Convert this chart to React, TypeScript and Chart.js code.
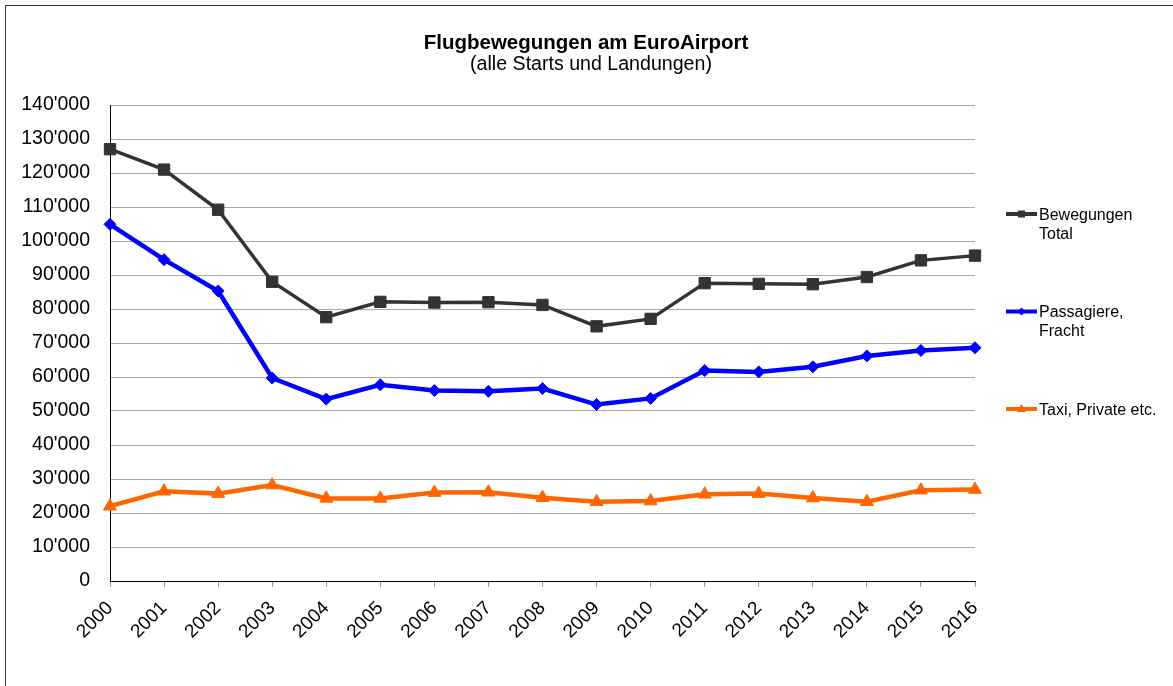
import React, { useEffect, useRef } from "react";
import { Chart, registerables } from "chart.js";

Chart.register(...registerables);

const years = ["2000", "2001", "2002", "2003", "2004", "2005", "2006", "2007", "2008", "2009", "2010", "2011", "2012", "2013", "2014", "2015", "2016"];
const total = [127000, 121000, 109200, 88000, 77600, 82100, 81900, 82000, 81200, 74900, 77100, 87600, 87400, 87300, 89400, 94300, 95700];
const passagiere = [104900, 94500, 85300, 59700, 53500, 57700, 56000, 55800, 56600, 51900, 53700, 61900, 61500, 63000, 66200, 67800, 68600];
const taxi = [22000, 26400, 25700, 28200, 24300, 24300, 26000, 26100, 24500, 23300, 23500, 25500, 25700, 24400, 23300, 26700, 26900];
const seriesLabels = [["Bewegungen", "Total"], ["Passagiere,", "Fracht"], ["Taxi, Private etc."]];
const titleText = "Flugbewegungen am EuroAirport";
const subtitleText = "(alle Starts und Landungen)";

const FONT = "'Liberation Sans', Arial, sans-serif";

const fmt = (v: number) => String(v).replace(/\B(?=(\d{3})+(?!\d))/g, "'");

const overlayPlugin = {
  id: "overlay",
  afterDraw(chart: any) {
    const ctx = chart.ctx;
    ctx.save();
    ctx.fillStyle = "#000";
    ctx.textAlign = "center";
    ctx.textBaseline = "alphabetic";
    ctx.font = `bold 20.5px ${FONT}`;
    ctx.fillText(titleText, 586, 49);
    ctx.font = `19.6px ${FONT}`;
    ctx.fillText(subtitleText, 591, 70);

    const rows = [214, 311.5, 409];
    chart.data.datasets.forEach((ds: any, i: number) => {
      const y = rows[i];
      ctx.strokeStyle = ds.borderColor;
      ctx.lineWidth = 4;
      ctx.beginPath();
      ctx.moveTo(1006, y);
      ctx.lineTo(1037, y);
      ctx.stroke();
      ctx.fillStyle = ds.borderColor;
      ctx.strokeStyle = ds.borderColor;
      ctx.lineWidth = 1;
      const style = ds.pointStyle;
      const cx = 1021.5;
      if (style === "rect") {
        ctx.fillRect(cx - 3.5, y - 3.5, 7, 7);
      } else if (style === "rectRot") {
        ctx.beginPath();
        ctx.moveTo(cx - 4, y);
        ctx.lineTo(cx, y - 4);
        ctx.lineTo(cx + 4, y);
        ctx.lineTo(cx, y + 4);
        ctx.closePath();
        ctx.fill();
      } else {
        ctx.beginPath();
        ctx.moveTo(cx, y - 5);
        ctx.lineTo(cx + 4.5, y + 3);
        ctx.lineTo(cx - 4.5, y + 3);
        ctx.closePath();
        ctx.fill();
      }
      ctx.fillStyle = "#000";
      ctx.textAlign = "left";
      ctx.font = `16px ${FONT}`;
      const lines = ds.label as string[];
      lines.forEach((t, k) => {
        ctx.fillText(t, 1039, y + 5.5 + k * 19);
      });
    });
    ctx.restore();
  },
};

export default function App() {
  const ref = useRef<HTMLCanvasElement | null>(null);

  useEffect(() => {
    if (!ref.current) return;
    const chart = new Chart(ref.current, {
      type: "line",
      data: {
        labels: years,
        datasets: [
          {
            label: seriesLabels[0] as any,
            data: total,
            borderColor: "#333333",
            backgroundColor: "#333333",
            borderWidth: 3.5,
            pointStyle: "rect",
            pointRadius: 8,
            pointBorderWidth: 1,
            pointBackgroundColor: "#333333",
            pointBorderColor: "#333333",
            tension: 0,
            clip: false as any,
          },
          {
            label: seriesLabels[1] as any,
            data: passagiere,
            borderColor: "#0000ff",
            backgroundColor: "#0000ff",
            borderWidth: 4.5,
            pointStyle: "rectRot",
            pointRadius: 6,
            pointBorderWidth: 1,
            pointBackgroundColor: "#0000ff",
            pointBorderColor: "#0000ff",
            tension: 0,
            clip: false as any,
          },
          {
            label: seriesLabels[2] as any,
            data: taxi,
            borderColor: "#ff6600",
            backgroundColor: "#ff6600",
            borderWidth: 4.5,
            pointStyle: "triangle",
            pointRadius: 7.5,
            pointBorderWidth: 1,
            pointBackgroundColor: "#ff6600",
            pointBorderColor: "#ff6600",
            tension: 0,
            clip: false as any,
          },
        ],
      },
      options: {
        animation: false,
        responsive: false,
        maintainAspectRatio: false,
        layout: { padding: { left: 0, right: 198, top: 105, bottom: 0 } },
        plugins: {
          legend: { display: false },
          title: { display: false },
          tooltip: { enabled: false },
        },
        scales: {
          x: {
            type: "category",
            offset: false,
            grid: { display: true, drawOnChartArea: false, drawTicks: true, tickLength: 6, color: "#999999" },
            border: { display: true, color: "#000000", width: 1 },
            ticks: {
              autoSkip: false,
              minRotation: 45,
              maxRotation: 45,
              color: "#000",
              font: { family: FONT, size: 19 },
              padding: 10,
            },
            afterFit: (s: any) => {
              s.height = 105;
            },
          },
          y: {
            min: 0,
            max: 140000,
            ticks: {
              stepSize: 10000,
              color: "#000",
              font: { family: FONT, size: 19.5 },
              padding: 20,
              callback: (v: any) => fmt(Number(v)),
            },
            grid: { color: "#aaaaaa", drawTicks: false, lineWidth: 1 },
            border: { display: true, color: "#000000", width: 1 },
            afterFit: (s: any) => {
              s.width = 110;
            },
          },
        },
      },
      plugins: [overlayPlugin],
    });
    return () => chart.destroy();
  }, []);

  return (
    <>
      <div
        style={{
          position: "fixed",
          left: 5,
          top: 5,
          width: 1220,
          height: 720,
          border: "1px solid #333",
          boxSizing: "border-box",
          background: "#fff",
        }}
      />
      <canvas
        ref={ref}
        width={1173}
        height={686}
        style={{ position: "fixed", left: 0, top: 0, width: 1173, height: 686, display: "block" }}
      />
    </>
  );
}
